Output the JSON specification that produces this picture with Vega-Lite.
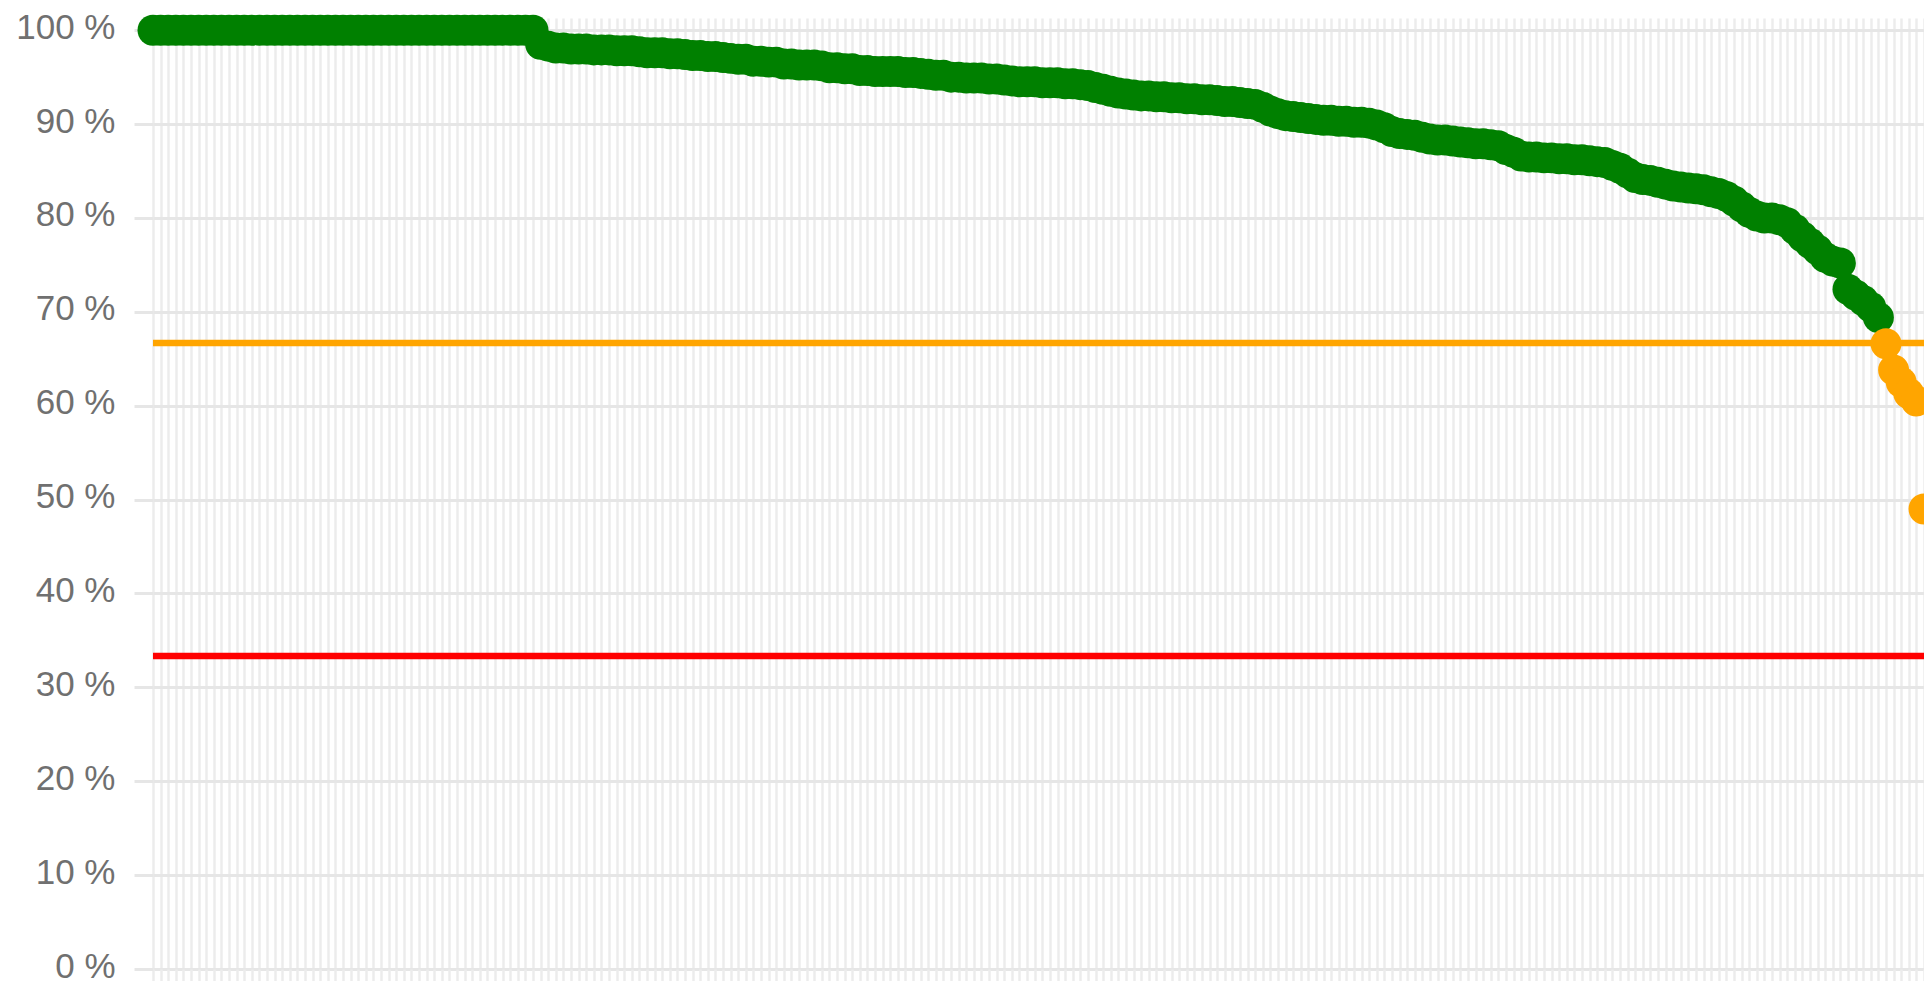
{
  "$schema": "https://vega.github.io/schema/vega-lite/v6.json",
  "autosize": {"type": "none"},
  "padding": {"left": 153, "top": 18, "right": 0, "bottom": 12},
  "width": 1771,
  "height": 951,
  "background": "#ffffff",
  "config": {"view": {"stroke": null}},
  "datasets": {
    "scores": [
      {"rank":0,"pct":100},{"rank":1,"pct":100},{"rank":2,"pct":100},{"rank":3,"pct":100},{"rank":4,"pct":100},{"rank":5,"pct":100},{"rank":6,"pct":100},{"rank":7,"pct":100},{"rank":8,"pct":100},{"rank":9,"pct":100},
      {"rank":10,"pct":100},{"rank":11,"pct":100},{"rank":12,"pct":100},{"rank":13,"pct":100},{"rank":14,"pct":100},{"rank":15,"pct":100},{"rank":16,"pct":100},{"rank":17,"pct":100},{"rank":18,"pct":100},{"rank":19,"pct":100},
      {"rank":20,"pct":100},{"rank":21,"pct":100},{"rank":22,"pct":100},{"rank":23,"pct":100},{"rank":24,"pct":100},{"rank":25,"pct":100},{"rank":26,"pct":100},{"rank":27,"pct":100},{"rank":28,"pct":100},{"rank":29,"pct":100},
      {"rank":30,"pct":100},{"rank":31,"pct":100},{"rank":32,"pct":100},{"rank":33,"pct":100},{"rank":34,"pct":100},{"rank":35,"pct":100},{"rank":36,"pct":100},{"rank":37,"pct":100},{"rank":38,"pct":100},{"rank":39,"pct":100},
      {"rank":40,"pct":100},{"rank":41,"pct":100},{"rank":42,"pct":100},{"rank":43,"pct":100},{"rank":44,"pct":100},{"rank":45,"pct":100},{"rank":46,"pct":100},{"rank":47,"pct":100},{"rank":48,"pct":100},{"rank":49,"pct":100},
      {"rank":50,"pct":100},{"rank":51,"pct":98.5},{"rank":52,"pct":98.3},{"rank":53,"pct":98.1},{"rank":54,"pct":98.1},{"rank":55,"pct":98.0},{"rank":56,"pct":98.0},{"rank":57,"pct":98.0},{"rank":58,"pct":97.9},{"rank":59,"pct":97.9},
      {"rank":60,"pct":97.9},{"rank":61,"pct":97.8},{"rank":62,"pct":97.8},{"rank":63,"pct":97.8},{"rank":64,"pct":97.7},{"rank":65,"pct":97.6},{"rank":66,"pct":97.6},{"rank":67,"pct":97.6},{"rank":68,"pct":97.5},{"rank":69,"pct":97.5},
      {"rank":70,"pct":97.4},{"rank":71,"pct":97.3},{"rank":72,"pct":97.3},{"rank":73,"pct":97.2},{"rank":74,"pct":97.2},{"rank":75,"pct":97.1},{"rank":76,"pct":97.0},{"rank":77,"pct":96.9},{"rank":78,"pct":96.9},{"rank":79,"pct":96.7},
      {"rank":80,"pct":96.7},{"rank":81,"pct":96.6},{"rank":82,"pct":96.6},{"rank":83,"pct":96.4},{"rank":84,"pct":96.4},{"rank":85,"pct":96.3},{"rank":86,"pct":96.3},{"rank":87,"pct":96.3},{"rank":88,"pct":96.2},{"rank":89,"pct":96.0},
      {"rank":90,"pct":96.0},{"rank":91,"pct":95.9},{"rank":92,"pct":95.9},{"rank":93,"pct":95.7},{"rank":94,"pct":95.7},{"rank":95,"pct":95.6},{"rank":96,"pct":95.6},{"rank":97,"pct":95.6},{"rank":98,"pct":95.6},{"rank":99,"pct":95.5},
      {"rank":100,"pct":95.5},{"rank":101,"pct":95.4},{"rank":102,"pct":95.3},{"rank":103,"pct":95.2},{"rank":104,"pct":95.2},{"rank":105,"pct":95.0},{"rank":106,"pct":95.0},{"rank":107,"pct":94.9},{"rank":108,"pct":94.9},{"rank":109,"pct":94.9},
      {"rank":110,"pct":94.8},{"rank":111,"pct":94.8},{"rank":112,"pct":94.7},{"rank":113,"pct":94.6},{"rank":114,"pct":94.5},{"rank":115,"pct":94.5},{"rank":116,"pct":94.5},{"rank":117,"pct":94.4},{"rank":118,"pct":94.4},{"rank":119,"pct":94.4},
      {"rank":120,"pct":94.3},{"rank":121,"pct":94.3},{"rank":122,"pct":94.2},{"rank":123,"pct":94.1},{"rank":124,"pct":93.9},{"rank":125,"pct":93.7},{"rank":126,"pct":93.5},{"rank":127,"pct":93.3},{"rank":128,"pct":93.2},{"rank":129,"pct":93.1},
      {"rank":130,"pct":93.0},{"rank":131,"pct":93.0},{"rank":132,"pct":92.9},{"rank":133,"pct":92.9},{"rank":134,"pct":92.8},{"rank":135,"pct":92.8},{"rank":136,"pct":92.7},{"rank":137,"pct":92.7},{"rank":138,"pct":92.6},{"rank":139,"pct":92.6},
      {"rank":140,"pct":92.5},{"rank":141,"pct":92.4},{"rank":142,"pct":92.4},{"rank":143,"pct":92.3},{"rank":144,"pct":92.2},{"rank":145,"pct":92.1},{"rank":146,"pct":91.8},{"rank":147,"pct":91.4},{"rank":148,"pct":91.1},{"rank":149,"pct":90.9},
      {"rank":150,"pct":90.8},{"rank":151,"pct":90.7},{"rank":152,"pct":90.6},{"rank":153,"pct":90.5},{"rank":154,"pct":90.4},{"rank":155,"pct":90.4},{"rank":156,"pct":90.3},{"rank":157,"pct":90.3},{"rank":158,"pct":90.2},{"rank":159,"pct":90.2},
      {"rank":160,"pct":90.1},{"rank":161,"pct":89.9},{"rank":162,"pct":89.6},{"rank":163,"pct":89.2},{"rank":164,"pct":89.0},{"rank":165,"pct":88.9},{"rank":166,"pct":88.8},{"rank":167,"pct":88.6},{"rank":168,"pct":88.4},{"rank":169,"pct":88.3},
      {"rank":170,"pct":88.3},{"rank":171,"pct":88.2},{"rank":172,"pct":88.1},{"rank":173,"pct":88.0},{"rank":174,"pct":87.9},{"rank":175,"pct":87.9},{"rank":176,"pct":87.8},{"rank":177,"pct":87.7},{"rank":178,"pct":87.3},{"rank":179,"pct":87.0},
      {"rank":180,"pct":86.6},{"rank":181,"pct":86.5},{"rank":182,"pct":86.5},{"rank":183,"pct":86.4},{"rank":184,"pct":86.4},{"rank":185,"pct":86.3},{"rank":186,"pct":86.3},{"rank":187,"pct":86.2},{"rank":188,"pct":86.2},{"rank":189,"pct":86.1},
      {"rank":190,"pct":86.0},{"rank":191,"pct":85.9},{"rank":192,"pct":85.6},{"rank":193,"pct":85.3},{"rank":194,"pct":84.8},{"rank":195,"pct":84.3},{"rank":196,"pct":84.1},{"rank":197,"pct":84.0},{"rank":198,"pct":83.8},{"rank":199,"pct":83.6},
      {"rank":200,"pct":83.4},{"rank":201,"pct":83.3},{"rank":202,"pct":83.2},{"rank":203,"pct":83.1},{"rank":204,"pct":83.0},{"rank":205,"pct":82.8},{"rank":206,"pct":82.6},{"rank":207,"pct":82.3},{"rank":208,"pct":81.8},{"rank":209,"pct":81.2},
      {"rank":210,"pct":80.6},{"rank":211,"pct":80.2},{"rank":212,"pct":80.0},{"rank":213,"pct":80.0},{"rank":214,"pct":79.8},{"rank":215,"pct":79.5},{"rank":216,"pct":78.8},{"rank":217,"pct":78.0},{"rank":218,"pct":77.3},{"rank":219,"pct":76.6},
      {"rank":220,"pct":75.8},{"rank":221,"pct":75.4},{"rank":222,"pct":75.2},{"rank":223,"pct":72.4},{"rank":224,"pct":71.8},{"rank":225,"pct":71.2},{"rank":226,"pct":70.5},{"rank":227,"pct":69.4},{"rank":228,"pct":66.6},{"rank":229,"pct":63.8},
      {"rank":230,"pct":62.5},{"rank":231,"pct":61.3},{"rank":232,"pct":60.5},{"rank":233,"pct":49.0}
    ],
    "thresholds": [
      {"level": "warning", "limit": 66.67},
      {"level": "critical", "limit": 33.33}
    ]
  },
  "layer": [
    {
      "data": {"name": "thresholds"},
      "mark": {"type": "rule", "strokeWidth": 6.5},
      "encoding": {
        "y": {"field": "limit", "type": "quantitative", "scale": {"domain": [0, 101.3], "nice": false, "zero": false}},
        "color": {"field": "level", "type": "nominal", "scale": {"domain": ["warning", "critical"], "range": ["#FFA500", "#FF0000"]}, "legend": null}
      }
    },
    {
      "data": {"name": "scores"},
      "mark": {"type": "circle", "size": 960, "opacity": 1},
      "encoding": {
        "x": {
          "field": "rank", "type": "quantitative",
          "scale": {"domain": [0, 233], "nice": false, "zero": false},
          "axis": {"title": null, "labels": false, "domain": false, "grid": true, "gridColor": "#ececec", "gridWidth": 2.5, "tickCount": 233, "ticks": true, "tickSize": 15, "tickColor": "#ececec", "tickWidth": 2.5}
        },
        "y": {
          "field": "pct", "type": "quantitative",
          "scale": {"domain": [0, 101.3], "nice": false, "zero": false},
          "axis": {"title": null, "values": [0,10,20,30,40,50,60,70,80,90,100], "labelExpr": "datum.value + ' %'", "domain": false, "grid": true, "gridColor": "#e6e6e6", "gridWidth": 3, "ticks": true, "tickSize": 19, "tickColor": "#e6e6e6", "tickWidth": 3, "labelPadding": 19, "labelFont": "Liberation Sans", "labelFontSize": 35, "labelColor": "#707070", "labelOffset": -3}
        },
        "color": {"condition": {"test": "datum.pct > 66.67", "value": "#008000"}, "value": "#FFA500"}
      }
    }
  ]
}
